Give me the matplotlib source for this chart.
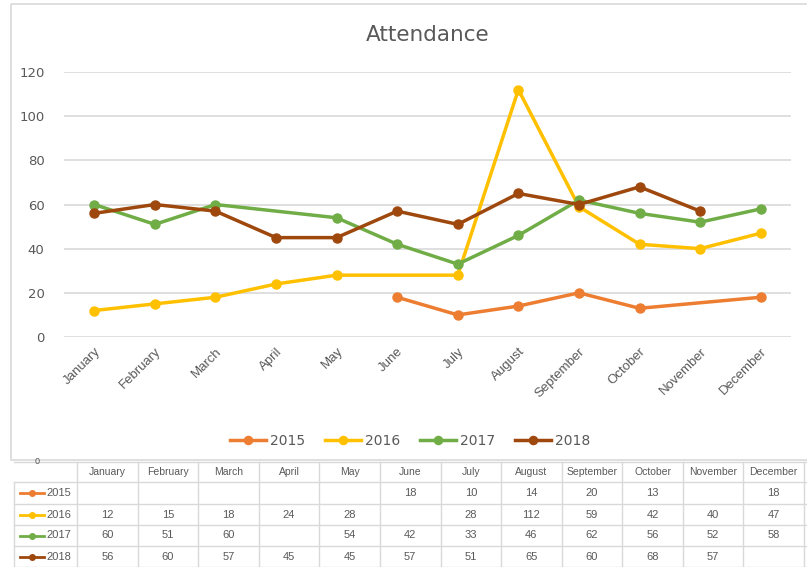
import numpy as np
import matplotlib
matplotlib.use("Agg")
from matplotlib import pyplot as plt
from matplotlib.patches import Rectangle
from matplotlib.lines import Line2D

months = ["January", "February", "March", "April", "May", "June", "July",
          "August", "September", "October", "November", "December"]
years = ["2015", "2016", "2017", "2018"]
nan = np.nan
att_2015 = [nan, nan, nan, nan, nan, 18, 10, 14, 20, 13, nan, 18]
att_2016 = [12, 15, 18, 24, 28, nan, 28, 112, 59, 42, 40, 47]
att_2017 = [60, 51, 60, nan, 54, 42, 33, 46, 62, 56, 52, 58]
att_2018 = [56, 60, 57, 45, 45, 57, 51, 65, 60, 68, 57, nan]
series = [att_2015, att_2016, att_2017, att_2018]
colors = ["#ED7D31", "#FFC000", "#70AD47", "#9E480E"]

plt.rcParams['font.family'] = ['Liberation Sans', 'DejaVu Sans']
W, H = 807, 567
fig = plt.figure(figsize=(W / 100, H / 100), dpi=100)
txt = "#595959"
grid = "#D9D9D9"

# background frame in pixel coords
bg = fig.add_axes([0, 0, 1, 1])
bg.set_xlim(0, W)
bg.set_ylim(H, 0)
bg.axis("off")
bg.add_patch(Rectangle((11, 4), W, 456, fill=False, ec=grid, lw=1.2))

# main chart
ax = fig.add_axes([64 / W, 1 - 337 / H, 727 / W, 265 / H])
x = np.arange(len(months))
for vals, col, yr in zip(series, colors, years):
    v = np.array(vals, dtype=float)
    ok = ~np.isnan(v)
    ax.plot(x[ok], v[ok], color=col, lw=2.5, marker="o", ms=6.5, label=yr,
            clip_on=False, zorder=3)
ax.set_xlim(-0.5, 11.5)
ax.set_ylim(0, 120)
ax.set_yticks(range(0, 121, 20))
ax.yaxis.grid(True, color=grid, lw=1.2)
ax.set_axisbelow(True)
for s in ax.spines.values():
    s.set_visible(False)
ax.tick_params(length=0, colors=txt)
ax.tick_params(axis="y", pad=14, labelsize=9.5)
ax.tick_params(axis="x", pad=6, labelsize=9.5)
ax.set_xticks(x)
ax.set_xticklabels(months, rotation=45, ha="right", rotation_mode="anchor")
ax.set_title("Attendance", color=txt, fontsize=15.5, pad=22,
             family=['DejaVu Sans'])
for lab in ax.get_yticklabels():
    lab.set_family('DejaVu Sans')
fig.legend(loc="center", bbox_to_anchor=(410 / W, 1 - 441 / H), ncol=4,
           frameon=False, labelcolor=txt, handlelength=2.6, markerscale=0.9,
           columnspacing=1.4, handletextpad=0.3,
           prop={'family': 'DejaVu Sans', 'size': 10})

# data table below the chart
col_left = 77
col_w = 727 / 12
row_top = [462, 482, 504, 525, 546, 567]
tc = "#D9D9D9"
for r in row_top:
    bg.plot([14, W], [r, r], color=tc, lw=1)
bg.plot([14, 14], [row_top[1], H], color=tc, lw=1)
for i in range(13):
    xx = col_left + i * col_w
    bg.plot([xx, xx], [row_top[0], H], color=tc, lw=1)
bg.text(37, 462, "0", ha="center", va="center", fontsize=6.5, color=txt)
for i, m in enumerate(months):
    cx = col_left + (i + 0.5) * col_w
    bg.text(cx, (row_top[0] + row_top[1]) / 2, m, ha="center", va="center",
            fontsize=7.5, color=txt)
for j, (vals, col, yr) in enumerate(zip(series, colors, years)):
    cy = (row_top[j + 1] + row_top[j + 2]) / 2
    bg.add_line(Line2D([20, 44], [cy, cy], color=col, lw=2))
    bg.plot([32], [cy], marker="o", ms=4, color=col)
    bg.text(46, cy, yr, ha="left", va="center", fontsize=8, color=txt)
    for i, v in enumerate(vals):
        if not np.isnan(v):
            cx = col_left + (i + 0.5) * col_w
            bg.text(cx, cy, str(int(v)), ha="center", va="center",
                    fontsize=8, color=txt)

fig.savefig("out.png", dpi=100)
